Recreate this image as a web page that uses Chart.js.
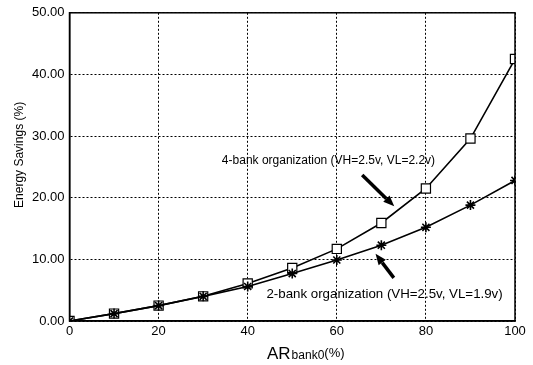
<!DOCTYPE html>
<html>
<head>
<meta charset="utf-8">
<script src="https://cdn.jsdelivr.net/npm/chart.js@4/dist/chart.umd.min.js"></script>
<style>
  html, body { margin: 0; padding: 0; background: #fff; }
  canvas { display: block; }
</style>
</head>
<body>
<canvas id="c" width="533" height="365"></canvas>
<script>
// Access ratio of bank 0 (%)
const arBank0 = [0, 10, 20, 30, 40, 50, 60, 70, 80, 90, 100];
// Energy savings (%) for each memory organization
const fourBank = [0, 1.2, 2.5, 4.0, 6.1, 8.6, 11.7, 15.9, 21.5, 29.6, 42.5];
const twoBank  = [0, 1.2, 2.5, 4.0, 5.6, 7.7, 9.9, 12.3, 15.2, 18.8, 22.8];
const yTicks = [0, 10, 20, 30, 40, 50];
const xTicks = [0, 20, 40, 60, 80, 100];
const fourBankLabel = '4-bank organization (VH=2.5v, VL=2.2v)';
const twoBankLabel  = '2-bank organization (VH=2.5v, VL=1.9v)';
const yTitle = 'Energy Savings (%)';

const FONT = '"Liberation Sans", Arial, Helvetica, sans-serif';

// Callout anchors in data units: [text x, text baseline y], [arrow tail], [arrow tip]
const callouts = [
  { text: fourBankLabel, size: 12,   at: [34.2, 25.4], tail: [65.7, 23.7], tip: [72.9, 18.6] },
  { text: twoBankLabel,  size: 13.3, at: [44.2, 3.8],  tail: [72.8, 7.0],  tip: [68.7, 10.9] }
];

const pts = arr => arr.map((v, i) => ({ x: arBank0[i], y: v }));

const decorations = {
  id: 'decorations',
  afterDatasetsDraw(chart) {
    const { ctx, chartArea: a, scales: { x, y } } = chart;
    ctx.save();
    // solid frame round the plot area
    ctx.strokeStyle = '#000';
    ctx.lineWidth = 1.5;
    ctx.setLineDash([]);
    ctx.strokeRect(a.left, a.top, a.right - a.left, a.bottom - a.top);

    // callout texts and arrows
    ctx.fillStyle = '#000';
    ctx.textBaseline = 'alphabetic';
    ctx.textAlign = 'left';
    callouts.forEach(c => {
      ctx.font = c.size + 'px ' + FONT;
      ctx.fillText(c.text, x.getPixelForValue(c.at[0]), y.getPixelForValue(c.at[1]));
      const x0 = x.getPixelForValue(c.tail[0]), y0 = y.getPixelForValue(c.tail[1]);
      const x1 = x.getPixelForValue(c.tip[0]),  y1 = y.getPixelForValue(c.tip[1]);
      const ang = Math.atan2(y1 - y0, x1 - x0);
      const headLen = 11, headHalf = 4.5;
      const bx = x1 - headLen * Math.cos(ang), by = y1 - headLen * Math.sin(ang);
      ctx.lineWidth = 3.5;
      ctx.lineCap = 'butt';
      ctx.beginPath();
      ctx.moveTo(x0, y0);
      ctx.lineTo(bx, by);
      ctx.stroke();
      ctx.beginPath();
      ctx.moveTo(x1, y1);
      ctx.lineTo(bx + headHalf * Math.sin(ang), by - headHalf * Math.cos(ang));
      ctx.lineTo(bx - headHalf * Math.sin(ang), by + headHalf * Math.cos(ang));
      ctx.closePath();
      ctx.fill();
    });

    // axis titles
    ctx.font = '12px ' + FONT;
    ctx.textAlign = 'center';
    ctx.textBaseline = 'middle';
    ctx.save();
    ctx.translate(19.5, (a.top + a.bottom) / 2 - 12);
    ctx.rotate(-Math.PI / 2);
    ctx.fillText(yTitle, 0, 0);
    ctx.restore();

    ctx.textAlign = 'left';
    ctx.textBaseline = 'alphabetic';
    const base = 358.5;
    let tx = 267;
    ctx.font = '17px ' + FONT;
    ctx.fillText('AR', tx, base);
    tx += ctx.measureText('AR').width + 1;
    ctx.font = '12px ' + FONT;
    ctx.fillText('bank0', tx, base);
    tx += ctx.measureText('bank0').width;
    ctx.font = '13px ' + FONT;
    ctx.fillText('(%)', tx, base - 1.5);
    ctx.restore();
  }
};

new Chart(document.getElementById('c'), {
  type: 'line',
  data: {
    datasets: [
      {
        label: twoBankLabel,
        data: pts(twoBank),
        borderColor: '#000',
        borderWidth: 1.6,
        pointStyle: 'star',
        pointRadius: 5,
        pointBorderWidth: 1.6,
        pointBorderColor: '#000',
        pointBackgroundColor: '#000',
        tension: 0
      },
      {
        label: fourBankLabel,
        data: pts(fourBank),
        borderColor: '#000',
        borderWidth: 1.6,
        pointStyle: 'rect',
        pointRadius: 6.5,
        pointBorderWidth: 1.2,
        pointBorderColor: '#000',
        pointBackgroundColor: '#fff',
        tension: 0
      }
    ]
  },
  options: {
    responsive: false,
    animation: false,
    devicePixelRatio: 1,
    layout: { padding: { left: 0, top: 10, right: 18, bottom: 0 } },
    plugins: { legend: { display: false }, tooltip: { enabled: false } },
    scales: {
      x: {
        type: 'linear',
        min: 0, max: 100,
        afterFit(s) { s.height = 44; },
        afterBuildTicks(s) { s.ticks = xTicks.map(v => ({ value: v })); },
        ticks: {
          color: '#000',
          font: { family: FONT, size: 13 },
          padding: 3,
          maxRotation: 0,
          callback: v => String(v)
        },
        grid: { color: '#000', lineWidth: 1, drawTicks: false, borderDash: [2, 2] },
        border: { display: true, color: '#000', width: 1.5, dash: [2, 2] }
      },
      y: {
        min: 0, max: 50,
        afterFit(s) { s.width = 69.5; },
        afterBuildTicks(s) { s.ticks = yTicks.map(v => ({ value: v })); },
        ticks: {
          color: '#000',
          font: { family: FONT, size: 13 },
          padding: 5,
          callback: v => Number(v).toFixed(2)
        },
        grid: { color: '#000', lineWidth: 1, drawTicks: false, borderDash: [2, 2] },
        border: { display: true, color: '#000', width: 1.5, dash: [2, 2] }
      }
    }
  },
  plugins: [decorations]
});
</script>
</body>
</html>
